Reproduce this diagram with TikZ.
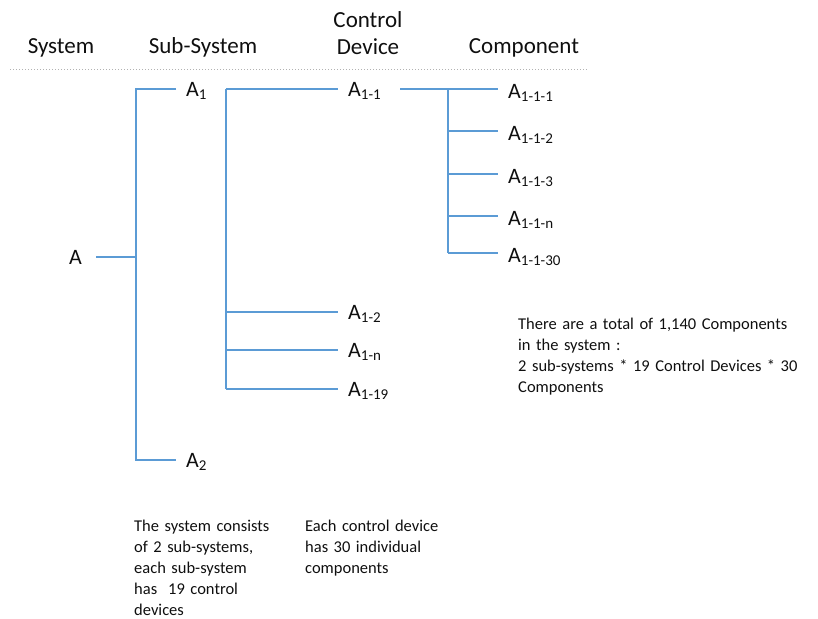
\documentclass[tikz,border=0pt]{standalone}
\usepackage{fontspec}
\setmainfont{Carlito}
\definecolor{linkblue}{RGB}{91,155,213}
\definecolor{inkgray}{RGB}{15,15,15}
\newcommand{\lowsub}[1]{\raisebox{-3pt}{\fontsize{15}{15}\selectfont #1}}
\tikzset{
	branch/.style={linkblue,line width=1.3pt},
	lbl/.style={inner xsep=10pt,inner ysep=0pt,font=\fontsize{22}{26}\selectfont,text=inkgray},
	head/.style={font=\fontsize{23}{27}\selectfont,text=inkgray,align=center,anchor=base},
	note/.style={font=\fontsize{16.5}{21}\selectfont,text=inkgray,align=left,anchor=base west,inner sep=0pt}
}
\begin{document}
\begin{tikzpicture}[x=1pt,y=-1pt]
	\useasboundingbox (0,0) rectangle (818,618);
	% headings
	\node[head] (hsys) at (61,53) {System};
	\node[head] (hsub) at (203,53) {Sub-System};
	\node[head,text width=100pt] (hdev) at (368,28) {Control\\Device};
	\node[head] (hcomp) at (524,53) {Component};
	\draw[gray!60,dotted,line width=1pt] (10,69) -- (588,69);
	% system and sub-systems
	\coordinate (s0) at (96,257);
	\coordinate (s1) at (136,257);
	\coordinate (t1) at (136,89);
	\coordinate (t2) at (136,460);
	\coordinate (e1) at (176,89);
	\coordinate (e2) at (176,460);
	\node[lbl,anchor=base east,inner xsep=14pt] (sys) at ([yshift=-7pt]s0) {A};
	\node[lbl,anchor=base west] (a1) at ([yshift=-7pt]e1) {A\lowsub{1}};
	\node[lbl,anchor=base west] (a2) at ([yshift=-7pt]e2) {A\lowsub{2}};
	\draw[branch] (s0) -- (s1);
	\draw[branch] (e1) -- (t1) -- (t2) -- (e2);
	% control devices
	\coordinate (d1) at (226,89);
	\coordinate (d19) at (226,389);
	\draw[branch] (d1) -- (d19);
	\foreach \y/\s in {89/1,312/2,350/n,389/19}
	{
		\coordinate (f\s) at (338,\y);
		\node[lbl,anchor=base west] (a1\s) at ([yshift=-7pt]f\s) {A\lowsub{1-\s}};
		\draw[branch] (d1 |- f\s) -- (f\s);
	}
	% components
	\coordinate (k0) at (400,89);
	\coordinate (k1) at (448,89);
	\coordinate (k30) at (448,253);
	\draw[branch] (k0) -- (k1) -- (k30);
	\foreach \y/\s in {89/1,131/2,174/3,216/n,253/30}
	{
		\coordinate (g\s) at (498,\y);
		\node[lbl,anchor=base west] (c\s) at ([yshift=-9pt]g\s) {A\lowsub{1-1-\s}};
		\draw[branch] (k1 |- g\s) -- (g\s);
	}
	% notes
	\node[note,text width=298pt] (total) at (518,329) {There are a total of 1,140 Components\\in the system :\\2 sub-systems * 19 Control Devices * 30\\Components};
	\node[note,text width=160pt] (subnote) at (134,531) {The system consists\\of 2 sub-systems,\\each sub-system\\has\ \ 19 control\\devices};
	\node[note,text width=150pt] (devnote) at (305,531) {Each control device\\has 30 individual\\components};
\end{tikzpicture}
\end{document}
